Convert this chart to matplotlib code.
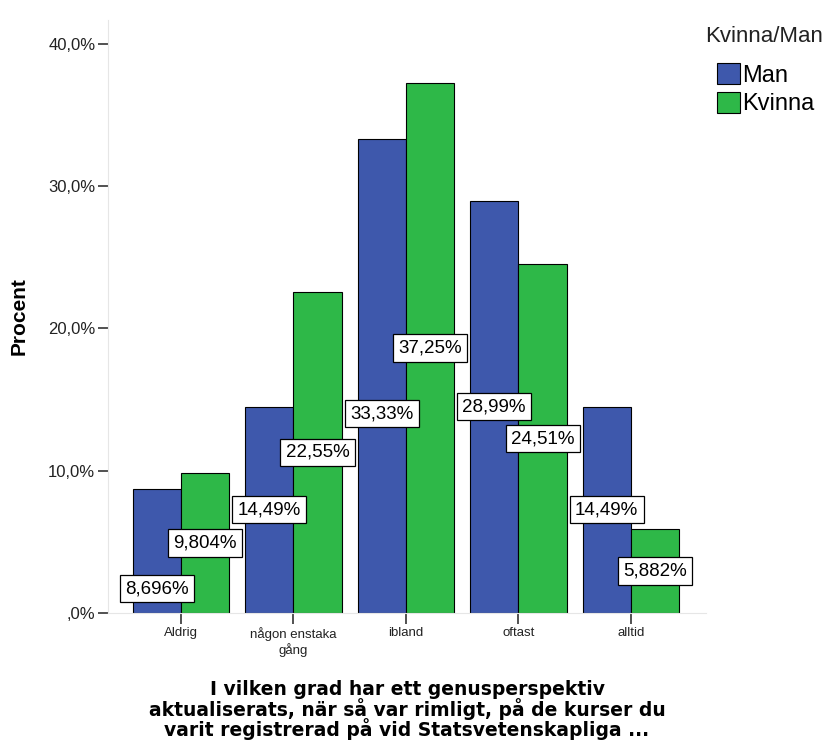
import numpy as np
import matplotlib.pyplot as plt
from matplotlib.ticker import FuncFormatter

plt.rcParams['font.family'] = ['Liberation Sans', 'DejaVu Sans']

# data
categories = ['Aldrig', 'någon enstaka\ngång', 'ibland', 'oftast', 'alltid']
man = [8.696, 14.49, 33.33, 28.99, 14.49]
kvinna = [9.804, 22.55, 37.25, 24.51, 5.882]
series_names = ['Man', 'Kvinna']
colors = ['#3E58AC', '#2EB848']

xlabel = ('I vilken grad har ett genusperspektiv\n'
          'aktualiserats, när så var rimligt, på de kurser du\n'
          'varit registrerad på vid Statsvetenskapliga ...')


def fmt_pct(v):
    s = f'{v:.4g}'.replace('.', ',')
    return s + '%'


def fmt_tick(v, pos):
    s = f'{v:.1f}'.replace('.', ',')
    if s.startswith('0,'):
        s = s[1:]
    return s + '%'


fig = plt.figure(figsize=(8.29, 7.4), dpi=100)
ax = fig.add_axes([0.130, 0.172, 0.722, 0.801])

x = np.arange(len(categories))
w = 0.43
bars_m = ax.bar(x - w / 2, man, w, color=colors[0], edgecolor='black',
                linewidth=0.8, label=series_names[0], zorder=2)
bars_k = ax.bar(x + w / 2, kvinna, w, color=colors[1], edgecolor='black',
                linewidth=0.8, label=series_names[1], zorder=2)

# value labels at half bar height, push man label down when they collide
for i in range(len(categories)):
    ym = man[i] / 2
    yk = kvinna[i] / 2
    if abs(ym - yk) < 2.2:
        ym = min(ym, yk) - 2.65
    bbox = dict(boxstyle='square,pad=0.28', facecolor='white',
                edgecolor='black', linewidth=0.9)
    ax.text(x[i] - w / 2, ym, fmt_pct(man[i]), ha='center', va='center',
            fontsize=13.5, bbox=bbox, zorder=4)
    ax.text(x[i] + w / 2, yk, fmt_pct(kvinna[i]), ha='center', va='center',
            fontsize=13.5, bbox=bbox, zorder=4)

ax.set_xlim(-0.65, 4.67)
ax.set_ylim(0, 41.7)
ax.set_yticks([0, 10, 20, 30, 40])
ax.yaxis.set_major_formatter(FuncFormatter(fmt_tick))
ax.set_xticks(x)
ax.set_xticklabels(categories, fontsize=9.5, linespacing=1.2)
ax.tick_params(axis='y', labelsize=12, labelcolor='#222222', length=7,
               width=1.2, color='#333333', pad=2)
ax.tick_params(axis='x', labelcolor='#222222', length=8, width=1.2,
               color='#333333', pad=2)

for side in ['top', 'right']:
    ax.spines[side].set_visible(False)
ax.spines['left'].set_color('#e6e6e6')
ax.spines['bottom'].set_color('#e6e6e6')

ax.set_ylabel('Procent', fontsize=15, fontweight='bold', labelpad=14)
ax.set_xlabel(xlabel, fontsize=13.5, fontweight='bold', family='DejaVu Sans',
              linespacing=0.92, labelpad=17)

# legend: title as separate text, entries indented below it
fig.text(0.851, 0.965, 'Kvinna/Man', fontsize=16, ha='left', va='top',
         color='#222222')
leg = ax.legend(loc='upper left',
                bbox_to_anchor=(0.865, 0.915), bbox_transform=fig.transFigure,
                frameon=False, fontsize=17,
                handlelength=0.95, handleheight=1.0, handletextpad=0.1,
                labelspacing=0.22, borderaxespad=0, borderpad=0)
for p in leg.get_patches():
    p.set_edgecolor('black')
    p.set_linewidth(0.8)

plt.savefig('out.png', dpi=100)
